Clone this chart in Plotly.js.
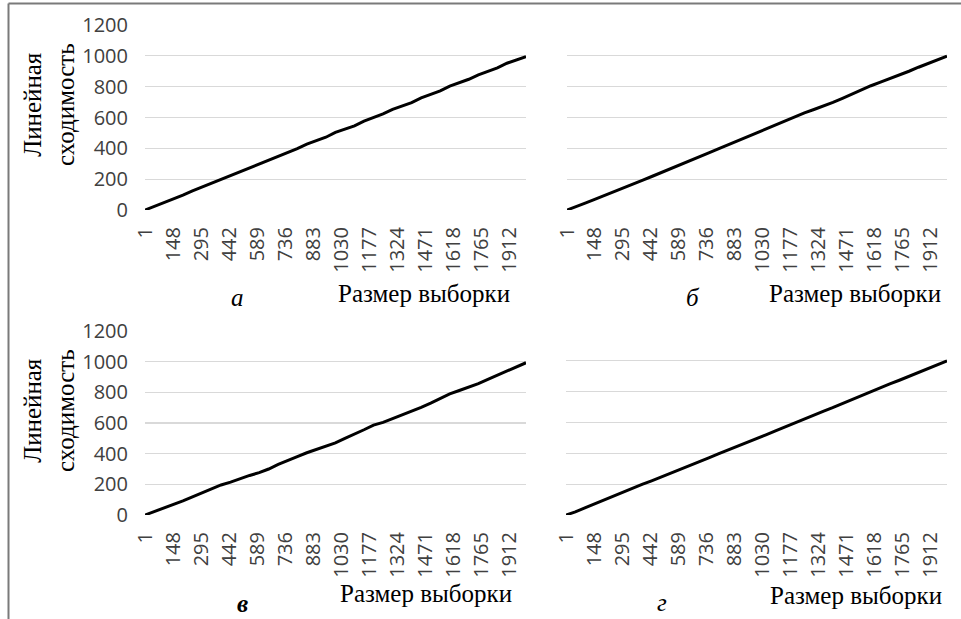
<!DOCTYPE html>
<html>
<head>
<meta charset="utf-8">
<script src="https://cdn.plot.ly/plotly-3.0.1.min.js"></script>
<style>html,body{margin:0;padding:0;background:#fff;}#chart{width:961px;height:619px;}</style>
</head>
<body>
<div id="chart"></div>
<script>
const sampleSize = [1,50,100,150,200,250,300,350,400,450,500,550,600,650,700,750,800,850,900,950,1000,
  1050,1100,1150,1200,1250,1300,1350,1400,1450,1500,1550,1600,1650,1700,1750,1800,1850,1900,1950,2000];

const panelA = [0,23,48,74,96,124,149,172,201,226,248,277,299,322,352,373,398,427,449,472,503,
  527,546,576,598,623,653,674,697,727,749,773,804,826,848,877,899,922,952,973,995];
const panelB = [0,21,46,70,94,117,142,168,194,219,244,268,292,319,346,372,398,424,450,474,498,
  524,552,580,606,630,652,674,698,724,752,780,806,830,852,876,900,926,950,974,998];
const panelC = [0,22,47,70,92,118,145,168,196,214,238,258,276,300,330,358,381,406,428,446,470,
  500,526,556,586,604,628,652,676,702,730,758,790,812,834,857,885,912,940,965,993];
const panelD = [0,20,46,72,96,120,146,172,198,222,246,270,294,318,344,370,396,420,446,470,496,
  520,546,572,598,624,648,672,696,722,748,776,802,826,850,874,900,924,950,976,1000];

const xTicks = [1,148,295,442,589,736,883,1030,1177,1324,1471,1618,1765,1912];
const yTicks = [0,200,400,600,800,1000,1200];
const panelLetters = ['а','б','в','г'];
const yTitle = 'Линейная<br>сходимость';
const xTitle = 'Размер выборки';

const W = 961, H = 619;
const px = v => v / W;
const py = v => 1 - v / H;

const series = [panelA, panelB, panelC, panelD];
const axSuffix = ['', '2', '3', '4'];
const traces = series.map((ys, i) => ({
  x: sampleSize, y: ys, type: 'scatter', mode: 'lines',
  line: {color: '#000', width: 3},
  xaxis: 'x' + axSuffix[i], yaxis: 'y' + axSuffix[i],
  hoverinfo: 'skip', showlegend: false
}));

const tickFont = {family: 'Open Sans', size: 20, color: '#404040'};
const xDomains = [[145,526],[567,947],[145,526],[566,947]];
const yDomains = [[25,210],[25,210],[331,515],[330,515]];

const layout = {
  width: W, height: H,
  margin: {l: 0, r: 0, t: 0, b: 0},
  paper_bgcolor: '#fff', plot_bgcolor: '#fff',
  showlegend: false,
  annotations: [], shapes: []
};

for (let i = 0; i < 4; i++) {
  const xa = 'xaxis' + axSuffix[i], ya = 'yaxis' + axSuffix[i];
  layout[xa] = {
    domain: [px(xDomains[i][0]), px(xDomains[i][1])],
    anchor: 'y' + axSuffix[i],
    range: [1, 2000],
    tickmode: 'array', tickvals: xTicks, ticktext: xTicks.map(String),
    tickangle: -90, tickfont: tickFont,
    showgrid: false, zeroline: false, showline: false, ticks: '',
    ticklabelstandoff: 12, fixedrange: true
  };
  layout[ya] = {
    domain: [py(yDomains[i][1]), py(yDomains[i][0])],
    anchor: 'x' + axSuffix[i],
    range: [0, 1200],
    tickmode: 'array', tickvals: yTicks, ticktext: yTicks.map(String),
    tickfont: tickFont, showticklabels: (i % 2 === 0),
    showgrid: true, gridcolor: '#d9d9d9', gridwidth: 1.3,
    zeroline: false, showline: false, ticks: '',
    ticklabelstandoff: 16, fixedrange: true
  };
}

const serif = {family: 'Times New Roman, Liberation Serif, Tinos, DejaVu Serif, serif', size: 25, color: '#000'};
// y titles (left column only)
[[49,105],[49,411]].forEach(p => layout.annotations.push({
  xref: 'paper', yref: 'paper', x: px(p[0]), y: py(p[1]),
  xanchor: 'center', yanchor: 'middle', text: yTitle, textangle: -90,
  showarrow: false, font: serif
}));
// x titles
[[424,293],[855,293],[426,593],[856,595]].forEach(p => layout.annotations.push({
  xref: 'paper', yref: 'paper', x: px(p[0]), y: py(p[1]),
  xanchor: 'center', yanchor: 'middle', text: xTitle,
  showarrow: false, font: serif
}));
// panel letters
[[237,297],[693,297],[242,603],[662,602]].forEach((p, i) => layout.annotations.push({
  xref: 'paper', yref: 'paper', x: px(p[0]), y: py(p[1]),
  xanchor: 'center', yanchor: 'middle',
  text: i === 2 ? '<b><i>' + panelLetters[i] + '</i></b>' : '<i>' + panelLetters[i] + '</i>',
  showarrow: false, font: serif
}));
// frame (left and top edges)
layout.shapes.push({type: 'line', xref: 'paper', yref: 'paper', x0: px(8.5), x1: px(8.5), y0: 0, y1: py(3.5),
  line: {color: '#7a7a7a', width: 2}});
layout.shapes.push({type: 'line', xref: 'paper', yref: 'paper', x0: px(8.5), x1: 1, y0: py(3.5), y1: py(3.5),
  line: {color: '#7a7a7a', width: 2}});

Plotly.newPlot('chart', traces, layout, {displayModeBar: false, staticPlot: true});
</script>
</body>
</html>
